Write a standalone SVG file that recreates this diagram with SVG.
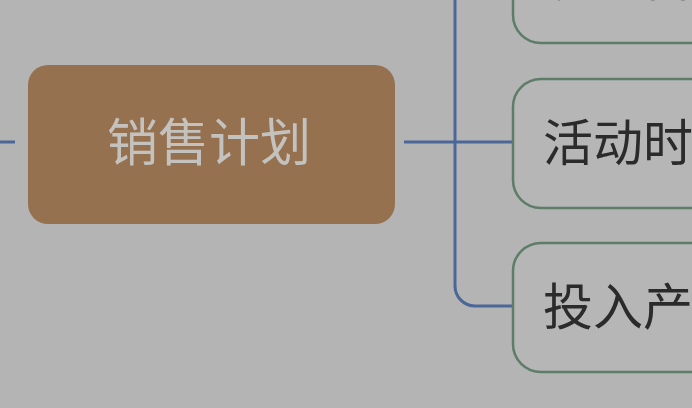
<svg xmlns="http://www.w3.org/2000/svg" width="692" height="408" viewBox="0 0 692 408">
  <style>
    .link { fill: none; stroke: #4a6797; stroke-width: 3; }
    .topic { fill: #b6b6b6; stroke: #5d7d68; stroke-width: 2.5; }
    .topic-label { font-family: "Noto Sans CJK SC", "Noto Sans", sans-serif; font-size: 50px; fill: #2b2b2b; }
    .root-label { font-family: "Noto Sans CJK SC", "Noto Sans", sans-serif; font-size: 51px; fill: #c4c2bf; text-anchor: middle; }
  </style>
  <rect width="692" height="408" fill="#b4b4b4"/>

  <!-- branch lines -->
  <g id="connectors">
    <line class="link" x1="0" y1="142" x2="15" y2="142"/>
    <line class="link" x1="404" y1="142" x2="514" y2="142"/>
    <path class="link" d="M514,-21 H475 A20,20 0 0 0 455,-1 V286 A20,20 0 0 0 475,306 H514"/>
  </g>

  <!-- central topic -->
  <g id="sales-plan">
    <rect x="28" y="65" width="367" height="159" rx="20" fill="#957150"/>
    <text class="root-label" x="209" y="161">销售计划</text>
  </g>

  <!-- subtopics -->
  <g id="topic-upper">
    <rect class="topic" x="513" y="-86" width="240" height="129" rx="28"/>
    <text class="topic-label" x="543" y="-4">流量目标</text>
  </g>
  <g id="topic-timing">
    <rect class="topic" x="513" y="79" width="240" height="129" rx="28"/>
    <text class="topic-label" x="543" y="161">活动时间</text>
  </g>
  <g id="topic-input">
    <rect class="topic" x="513" y="243" width="240" height="129" rx="28"/>
    <text class="topic-label" x="543" y="325">投入产出</text>
  </g>
</svg>
